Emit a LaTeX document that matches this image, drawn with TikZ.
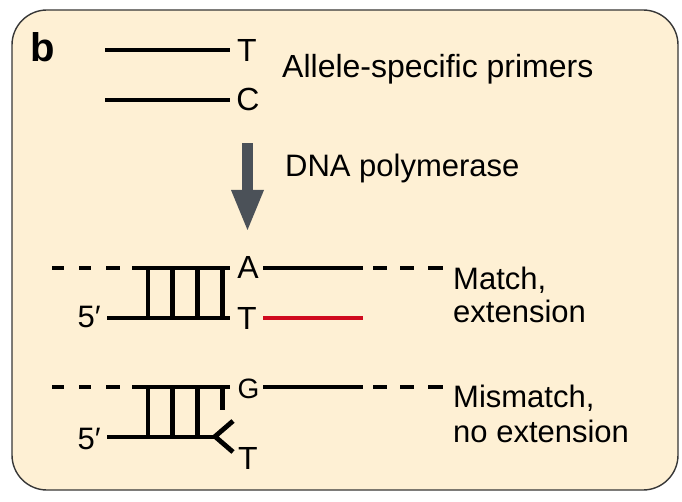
\documentclass[tikz,border=0pt]{standalone}
\usepackage{fontspec}
\setmainfont{Liberation Sans}
\definecolor{bgc}{RGB}{254,240,212}
\definecolor{framec}{RGB}{55,55,55}
\definecolor{arrowc}{RGB}{75,81,88}
\definecolor{redc}{RGB}{208,10,30}
\tikzset{
  strand/.style={line width=4.8pt, line cap=butt, black},
  lbl/.style={inner sep=0pt, anchor=base, font=\fontsize{32}{34}\selectfont},
  txt/.style={inner sep=0pt, anchor=base west, font=\fontsize{31}{34}\selectfont},
}
\begin{document}
\begin{tikzpicture}[x=1pt,y=-1pt]
\useasboundingbox (0,0) rectangle (682,502);
% panel
\draw[fill=bgc, draw=framec, line width=1.4pt, rounded corners=35pt] (12,10) rectangle (678,490);
% panel letter
\node[inner sep=0pt, anchor=base west, font=\fontsize{40}{42}\selectfont\bfseries] (b) at (30,62) {b};
% primers
\draw[strand] (105,50) -- (230,50);
\draw[strand] (105,100) -- (230,100);
\node[lbl] (pT) at (247,62) {T};
\node[lbl] (pC) at (248,110.5) {C};
\node[txt, font=\fontsize{32}{34}\selectfont] (asp) at (282,78) {Allele-specific primers};
% arrow
\fill[arrowc] (242,143) rectangle (253,192);
\fill[arrowc] (231,190) -- (264,190) -- (247.5,230) -- cycle;
\node[txt] (dna) at (285,177) {DNA polymerase};
% ---- match duplex ----
\foreach \xa/\xb in {52/64,79/91,106/120,373/387,400/414,428/443}
  \draw[strand] (\xa,268) -- (\xb,268);
\draw[strand] (132,268) -- (230,268);
\draw[strand] (263,268) -- (363,268);
\draw[strand] (107,318) -- (230,318);
\foreach \x in {148,172.5,197.5,222.5}
  \draw[strand] (\x,268) -- (\x,318);
\draw[strand, redc] (263,318) -- (363,318);
\node[lbl] (mA) at (248,279) {A};
\node[lbl] (mT) at (247,330) {T};
\node[inner sep=0pt, anchor=base east, font=\fontsize{31}{34}\selectfont] (m5) at (101,327) {5′};
\node[txt] (match1) at (453,290) {Match,};
\node[txt] (match2) at (453,323) {extension};
% ---- mismatch duplex ----
\foreach \xa/\xb in {52/64,79/91,106/120,373/387,400/414,428/443}
  \draw[strand] (\xa,387) -- (\xb,387);
\draw[strand] (132,387) -- (230,387);
\draw[strand] (263,387) -- (363,387);
\draw[strand] (107,437) -- (215,437);
\foreach \x in {148,172.5,197.5}
  \draw[strand] (\x,387) -- (\x,437);
\draw[strand] (222.5,387) -- (222.5,410);
\draw[strand, line join=miter] (233,421) -- (215,436.5) -- (233,452);
\node[inner sep=0pt, anchor=base, font=\fontsize{28}{30}\selectfont] (xG) at (248.5,398.5) {G};
\node[lbl] (xT) at (248,469) {T};
\node[inner sep=0pt, anchor=base east, font=\fontsize{31}{34}\selectfont] (x5) at (101,449) {5′};
\node[txt] (mis1) at (453,407) {Mismatch,};
\node[txt] (mis2) at (453,442) {no extension};
\end{tikzpicture}
\end{document}
